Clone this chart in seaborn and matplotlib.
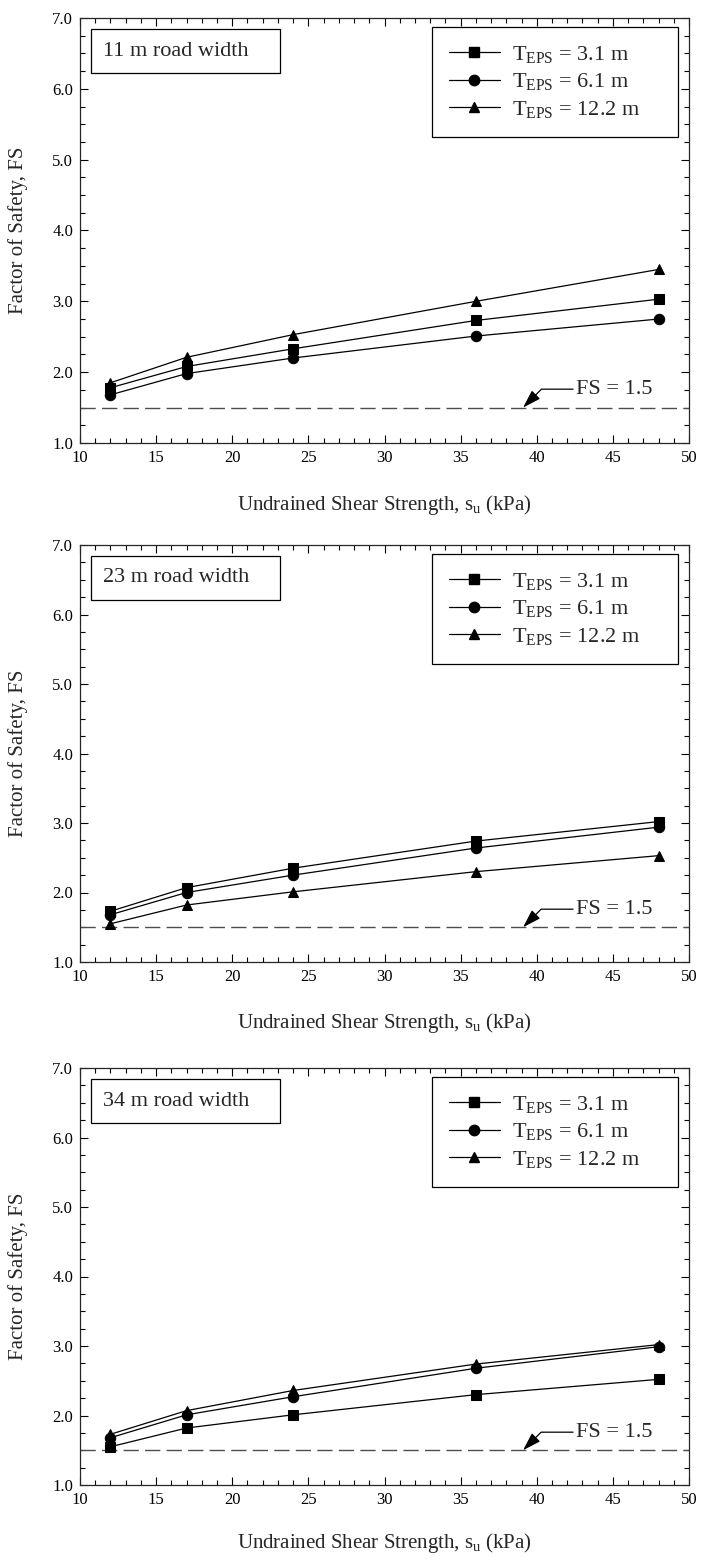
import numpy as np
import pandas as pd
import matplotlib
matplotlib.use('Agg')
import matplotlib.pyplot as plt
import seaborn as sns
from matplotlib.ticker import MultipleLocator
from matplotlib.lines import Line2D
from matplotlib.patches import Rectangle

# ── Data ──────────────────────────────────────────────────
su = [12, 17, 24, 36, 48]
series_names = ['T31', 'T61', 'T122']
series_labels = [r'T$_{\mathregular{EPS}}$ = 3.1 m',
                 r'T$_{\mathregular{EPS}}$ = 6.1 m',
                 r'T$_{\mathregular{EPS}}$ = 12.2 m']
road_labels = ['11 m road width', '23 m road width', '34 m road width']

fs_11_t31 = [1.78, 2.08, 2.33, 2.73, 3.03]
fs_11_t61 = [1.68, 1.98, 2.20, 2.51, 2.75]
fs_11_t122 = [1.85, 2.21, 2.53, 3.00, 3.45]

fs_23_t31 = [1.73, 2.07, 2.35, 2.74, 3.02]
fs_23_t61 = [1.68, 2.00, 2.25, 2.64, 2.94]
fs_23_t122 = [1.55, 1.82, 2.01, 2.30, 2.53]

fs_34_t31 = [1.55, 1.82, 2.01, 2.30, 2.52]
fs_34_t61 = [1.68, 2.01, 2.27, 2.68, 2.99]
fs_34_t122 = [1.73, 2.07, 2.36, 2.74, 3.02]

panels = [
    [fs_11_t31, fs_11_t61, fs_11_t122],
    [fs_23_t31, fs_23_t61, fs_23_t122],
    [fs_34_t31, fs_34_t61, fs_34_t122],
]
fs_limit = 1.5

# ── Style ─────────────────────────────────────────────────
sns.set_style('ticks')
plt.rcParams['font.family'] = ['Liberation Serif', 'DejaVu Serif']
plt.rcParams['mathtext.fontset'] = 'custom'
plt.rcParams['mathtext.rm'] = 'Liberation Serif'
plt.rcParams['mathtext.it'] = 'Liberation Serif:italic'
plt.rcParams['axes.linewidth'] = 0.9

markers = ['s', 'o', '^']

fig = plt.figure(figsize=(7.01, 15.6), dpi=100)
W, H = 701, 1560
ax_px = [(18, 443), (545, 962), (1068, 1485)]   # top, bottom in pixels
xlab_px = [493, 1011, 1531]                       # top of x label
left_px, right_px = 80, 689

for i, (top, bot) in enumerate(ax_px):
    h_px = bot - top
    w_px = right_px - left_px
    ax = fig.add_axes([left_px / W, 1 - bot / H, w_px / W, h_px / H])

    rows = []
    for name, vals in zip(series_names, panels[i]):
        for x, y in zip(su, vals):
            rows.append({'su': x, 'FS': y, 'series': name})
    df = pd.DataFrame(rows)

    sns.lineplot(data=df, x='su', y='FS', hue='series', style='series',
                 palette=['black'] * 3, markers=markers, dashes=False,
                 markersize=7.5, markeredgecolor='black', linewidth=0.9,
                 ax=ax, legend=False)

    ax.axhline(fs_limit, color='#4d4d4d', linewidth=1.0, dashes=(11, 4.5), zorder=1)

    ax.annotate('FS = 1.5', xy=(39.1, fs_limit), xytext=(42.6, 1.76),
                fontsize=16, va='center', ha='left',
                arrowprops=dict(arrowstyle='-|>,head_length=0.7,head_width=0.22',
                                connectionstyle='angle,angleA=0,angleB=45,rad=0',
                                color='black', lw=0.9, relpos=(0, 0.5),
                                shrinkA=0, shrinkB=0))

    ax.set_xlim(10, 50)
    ax.set_ylim(1.0, 7.0)
    ax.xaxis.set_major_locator(MultipleLocator(5))
    ax.xaxis.set_minor_locator(MultipleLocator(1))
    ax.yaxis.set_major_locator(MultipleLocator(1))
    ax.yaxis.set_minor_locator(MultipleLocator(0.25))
    ax.set_yticklabels([f'{v:.1f}' for v in ax.get_yticks()])
    ax.tick_params(which='both', direction='in', top=True, right=True,
                   labelsize=12, width=0.8, colors='black')
    ax.tick_params(which='major', length=6, pad=5)
    ax.tick_params(which='minor', length=3.5)

    ax.set_xlabel(r'Undrained Shear Strength, s$_{\mathregular{u}}$ (kPa)', fontsize=15)
    ax.set_ylabel('Factor of Safety, FS', fontsize=15)
    ax.xaxis.set_label_coords(0.5, -(xlab_px[i] - bot) / h_px)
    ax.yaxis.set_label_coords(-0.085, 0.5)

    # road width box (wider on the right, as in the original)
    bx0, bx1 = (91 - left_px) / w_px, (280 - left_px) / w_px
    by1, by0 = 1 - 11 / h_px, 1 - 55 / h_px
    ax.add_patch(Rectangle((bx0, by0), bx1 - bx0, by1 - by0, transform=ax.transAxes,
                           fc='white', ec='black', lw=0.9, zorder=4))
    ax.text((103 - left_px) / w_px, (by0 + by1) / 2, road_labels[i],
            transform=ax.transAxes, fontsize=16, va='center', ha='left', zorder=5)

    handles = [Line2D([], [], color='black', marker=m, markersize=7.5, lw=0.9)
               for m in markers]
    lx0 = (432 - left_px) / w_px
    lw_ = (678 - 432) / w_px
    ltop = 1 - 9 / h_px
    lh = 114 / h_px
    leg = ax.legend(handles, series_labels, loc='upper left', mode='expand',
                    bbox_to_anchor=(lx0, ltop - lh, lw_, lh), fontsize=16,
                    frameon=True, fancybox=False, framealpha=1,
                    edgecolor='black', borderaxespad=0, handlelength=2.3,
                    handletextpad=0.55, labelspacing=0.3, borderpad=0.75)
    leg.get_frame().set_linewidth(0.9)

fig.savefig('out.png', dpi=100)
